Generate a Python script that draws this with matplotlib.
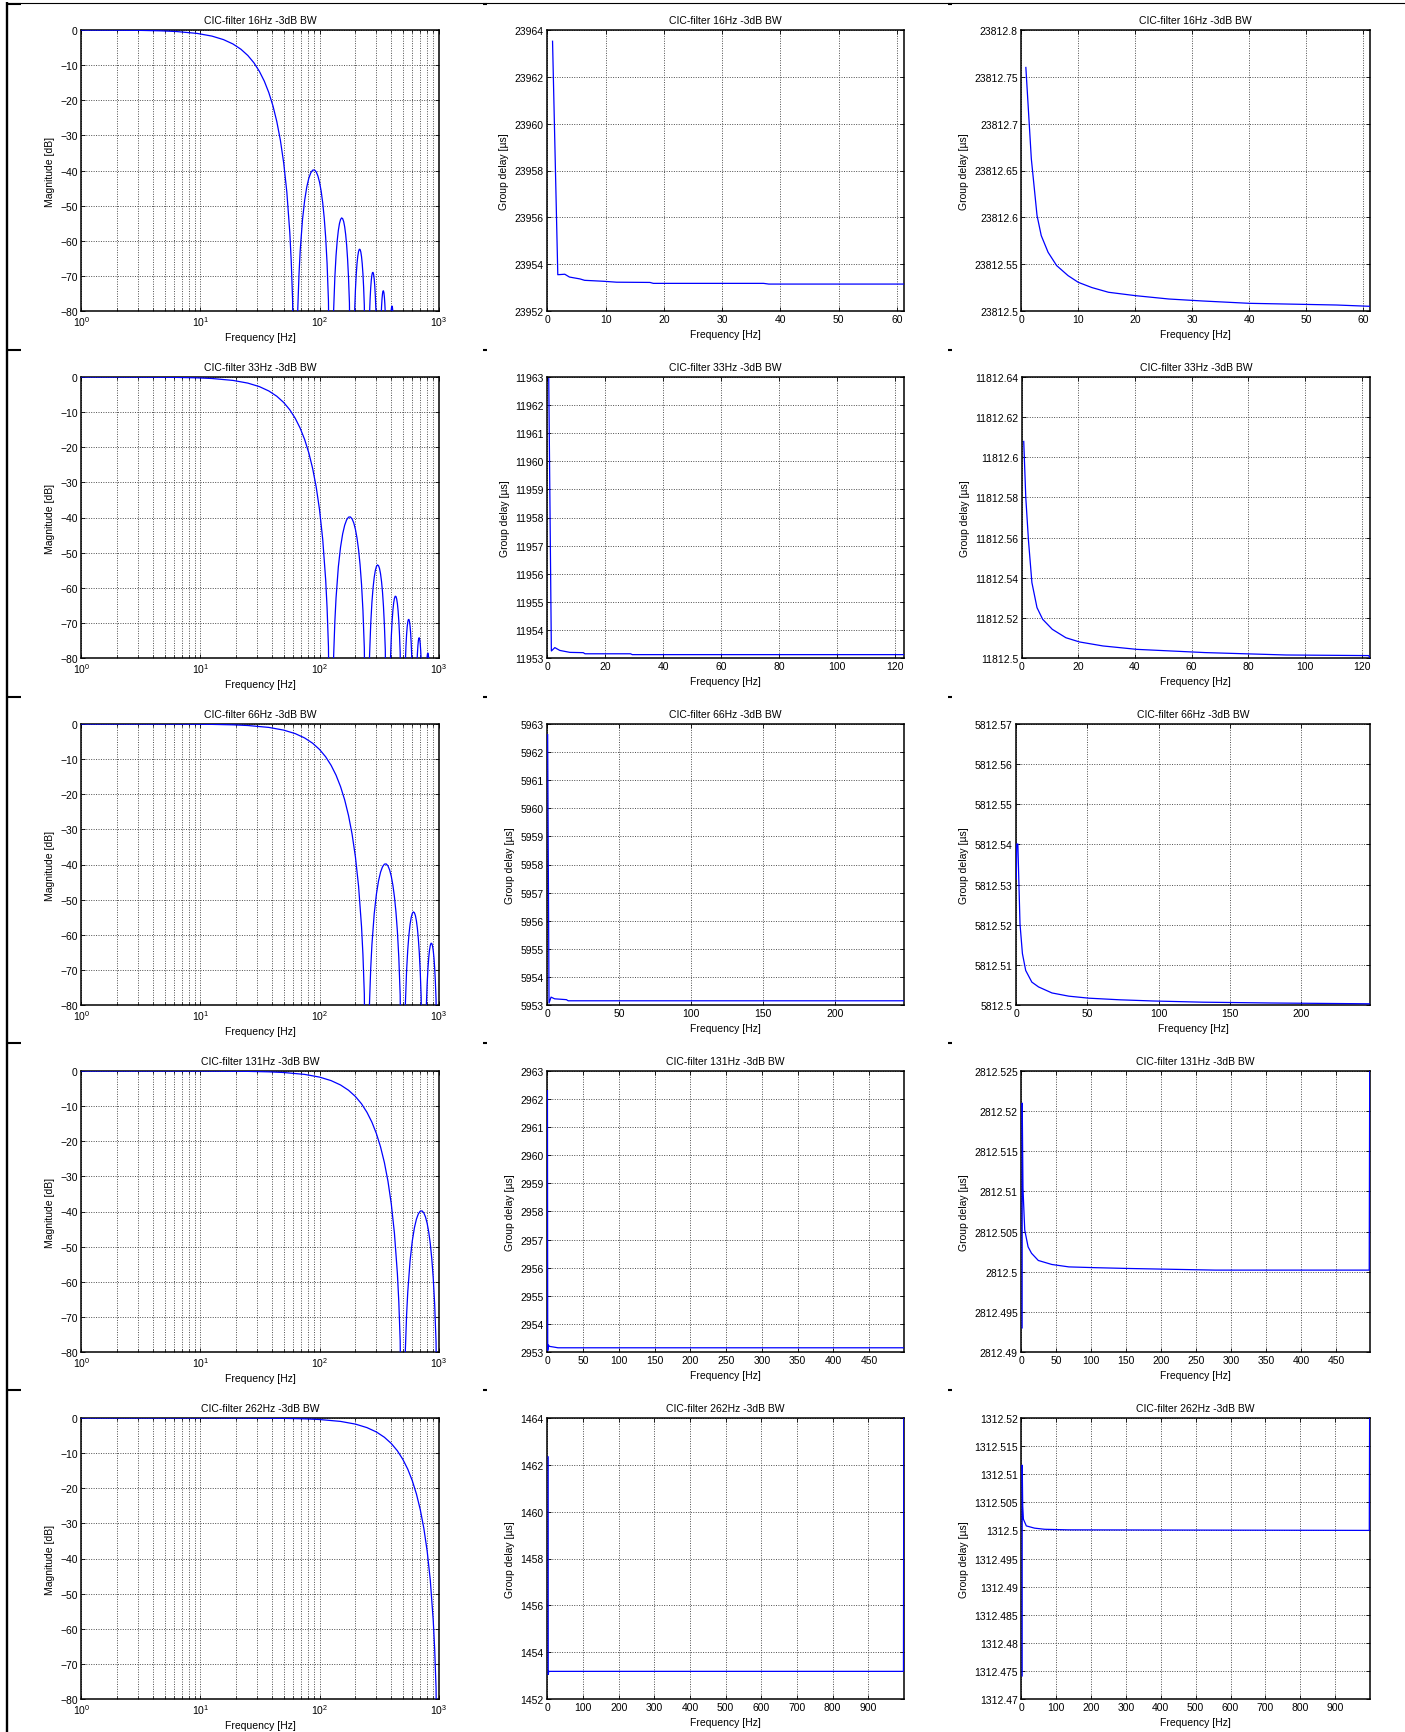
import numpy as np
import matplotlib
matplotlib.use('Agg')
import matplotlib.pyplot as plt
from matplotlib.lines import Line2D
from matplotlib.ticker import FixedLocator, FuncFormatter, NullFormatter, LogLocator

plt.rcParams['font.family'] = ['Liberation Sans', 'DejaVu Sans']
plt.rcParams['mathtext.fontset'] = 'custom'
plt.rcParams['mathtext.rm'] = 'Liberation Sans'
plt.rcParams['mathtext.it'] = 'Liberation Sans:italic'

W, H = 1405, 1733                                   # output size in pixels

# ---- data ----
BW_LABELS = ['16Hz', '33Hz', '66Hz', '131Hz', '262Hz']
NULL_FREQ = [62.5, 125, 250, 500, 1000]             # first null of each filter [Hz]

# magnitude shape, frequency relative to first null, level in dB (-150 = null, below view)
MAG_RATIO = [0.001, 0.003, 0.01, 0.02, 0.03, 0.05, 0.075, 0.1, 0.15, 0.2, 0.25, 0.3, 0.35, 0.4,
             0.45, 0.5, 0.55, 0.6, 0.65, 0.7, 0.75, 0.8, 0.85, 0.9, 0.925, 0.95, 1.0,
             1.05, 1.075, 1.1, 1.15, 1.2, 1.25, 1.3, 1.35, 1.4, 1.45, 1.5, 1.55, 1.6, 1.65, 1.7,
             1.75, 1.8, 1.85, 1.9, 2.0,
             2.1, 2.15, 2.2, 2.25, 2.3, 2.35, 2.4, 2.45, 2.5, 2.55, 2.6, 2.65, 2.7, 2.75, 2.8,
             2.85, 3.0,
             3.15, 3.2, 3.25, 3.3, 3.35, 3.4, 3.45, 3.5, 3.55, 3.6, 3.65, 3.7, 3.75, 3.8, 4.0,
             4.2, 4.25, 4.3, 4.35, 4.4, 4.45, 4.5, 4.55, 4.6, 4.65, 4.7, 4.75, 5.0,
             5.25, 5.3, 5.35, 5.4, 5.45, 5.5, 5.55, 5.6, 5.65, 5.7, 6.0,
             6.35, 6.4, 6.45, 6.5, 6.55, 6.6, 7.0, 8.0]
MAG_DB = [0.0, 0.0, -0.004, -0.017, -0.039, -0.107, -0.24, -0.43, -0.97, -1.74, -2.74, -3.98, -5.48, -7.26,
          -9.34, -11.77, -14.57, -17.83, -21.61, -26.06, -31.36, -37.86, -46.17, -57.68, -65.7, -76.83, -150,
          -79.4, -69.6, -62.9, -54.05, -48.43, -44.67, -42.19, -40.66, -39.90, -39.83, -40.39, -41.57, -43.38, -45.88, -49.18,
          -53.44, -58.99, -66.44, -77.16, -150,
          -79.76, -70.35, -64.22, -59.99, -57.06, -55.10, -53.95, -53.50, -53.71, -54.54, -56.04, -58.23, -61.23, -65.22, -70.51,
          -77.70, -150,
          -80.3, -73.98, -69.57, -66.46, -64.34, -63.03, -62.42, -62.47, -63.17, -64.52, -66.57, -69.44, -73.30, -78.46, -150,
          -81.07, -76.56, -73.36, -71.15, -69.75, -69.05, -69.02, -69.63, -70.90, -72.88, -75.68, -79.46, -150,
          -82.07, -78.8, -76.54, -75.08, -74.33, -74.25, -74.81, -76.03, -77.96, -80.7, -150,
          -81.0, -79.51, -78.73, -78.60, -79.13, -80.3, -150, -150]

# group delay, middle column [Hz], [us]
GD_MID_F = [
    [0.9, 1.8, 3, 3.8, 5.6, 6.4, 9.6, 11.9, 17.6, 18.2, 37.1, 38, 61.2],
    [0.5, 1.4, 2.6, 4.3, 7.8, 12.4, 13, 28.7, 29.3, 123],
    [0.25, 1.2, 2.6, 5.1, 13.3, 14.5, 248],
    [0.2, 0.6, 1.5, 3, 8, 15, 498],
    [2.5, 2.6, 4, 998.5, 999.5],
]
GD_MID_V = [
    [23963.52, 23953.55, 23953.57, 23953.45, 23953.37, 23953.31, 23953.27, 23953.23, 23953.22, 23953.18,
     23953.18, 23953.15, 23953.15],
    [11962.94, 11953.25, 11953.37, 11953.27, 11953.20, 11953.19, 11953.15, 11953.15, 11953.12, 11953.12],
    [5962.62, 5953.07, 5953.28, 5953.22, 5953.19, 5953.15, 5953.15],
    [2962.3, 2953.05, 2953.25, 2953.2, 2953.18, 2953.15, 2953.15],
    [1462.34, 1453.05, 1453.18, 1453.18, 1465],
]

# group delay, right column [Hz], [us]
GD_RIGHT_F = [
    [0.8, 1.76, 2.76, 3.5, 4.7, 6.2, 8.2, 10, 12.4, 15.3, 20, 25.9, 31.8, 40, 49.4, 55.3, 61.2],
    [0.72, 1.44, 2.4, 3.6, 5.4, 7.4, 10.8, 15.6, 20.4, 28.7, 40.7, 52.7, 64.7, 76.6, 93.4, 122.5, 123],
    [0.2, 0.5, 1.3, 2.8, 4.5, 6.8, 11.1, 15.8, 25.2, 37, 51, 72.4, 96, 131, 178.5, 248],
    [1.2, 1.3, 2.4, 4.9, 9.7, 14.6, 24.3, 43.7, 68, 107, 155, 277, 497.5, 498.3],
    [2.5, 2.6, 4, 6, 14.4, 38, 67, 134, 998, 999.3],
]
GD_RIGHT_V = [
    [23812.760, 23812.6625, 23812.602, 23812.5805, 23812.5627, 23812.5485, 23812.5378, 23812.5306,
     23812.525, 23812.520, 23812.5164, 23812.5128, 23812.5107, 23812.5082, 23812.5071, 23812.5064, 23812.505],
    [11812.6079, 11812.580, 11812.5584, 11812.5376, 11812.5251, 11812.5193, 11812.5143, 11812.5101,
     11812.508, 11812.506, 11812.5043, 11812.5035, 11812.5027, 11812.5022, 11812.5015, 11812.5012, 11812.5002],
    [5812.5314, 5812.5401, 5812.5401, 5812.5202, 5812.5128, 5812.5086, 5812.5057, 5812.5045, 5812.503,
     5812.5022, 5812.5017, 5812.5013, 5812.501, 5812.5007, 5812.5005, 5812.5003],
    [2812.4930, 2812.5210, 2812.5104, 2812.5052, 2812.5031, 2812.5023, 2812.5014, 2812.5009, 2812.5006,
     2812.5005, 2812.5004, 2812.5002, 2812.5002, 2812.53],
    [1312.4741, 1312.5116, 1312.5044, 1312.502, 1312.5008, 1312.5004, 1312.5002, 1312.5001, 1312.5, 1312.53],
]

# axis ranges
X_MAX = [61.2, 123, 248, 498.6, 1000]
X_STEP = [10, 20, 50, 50, 100]
MID_Y = [(23952, 23964, 2), (11953, 11963, 1), (5953, 5963, 1), (2953, 2963, 1), (1452, 1464, 2)]
RIGHT_Y = [(23812.5, 23812.8, 0.05), (11812.5, 11812.64, 0.02), (5812.5, 5812.57, 0.01),
           (2812.49, 2812.525, 0.005), (1312.47, 1312.52, 0.005)]

# ---- layout (pixels) ----
ROW_TOP = [31, 378, 725, 1072, 1419]
AX_H = 281
COL_LEFT = [81.3, 547.3]
COL_W = [357.4, 356.7]
COL3_LEFT = [1021.3, 1021.7, 1016.0, 1021.3, 1021.3]
COL3_RIGHT = 1370.0
FS = 7.5
BLUE = '#0000ff'


def px_axes(fig, left, top, width, height):
    return fig.add_axes([left / W, 1 - (top + height) / H, width / W, height / H])


def style(ax):
    for s in ax.spines.values():
        s.set_linewidth(1.1)
    ax.tick_params(which='both', direction='in', top=True, right=True, labelsize=FS, pad=2.5)
    ax.tick_params(which='major', length=3, width=0.6)
    ax.tick_params(which='minor', length=2, width=0.5)
    ax.grid(True, which='both', color='0.3', linestyle=(0, (1, 1.5)), linewidth=0.7)
    ax.set_axisbelow(True)


def num_fmt(v, pos):
    s = '%.4f' % v
    return s.rstrip('0').rstrip('.')


def set_y(ax, lo, hi, step):
    n = int(round((hi - lo) / step)) + 1
    ax.set_ylim(lo, hi)
    ax.yaxis.set_major_locator(FixedLocator(np.linspace(lo, hi, n)))
    ax.yaxis.set_major_formatter(FuncFormatter(num_fmt))


def set_x(ax, i):
    ax.set_xlim(0, X_MAX[i])
    ax.xaxis.set_major_locator(FixedLocator(np.arange(0, X_MAX[i], X_STEP[i])))
    ax.xaxis.set_major_formatter(FuncFormatter(num_fmt))


fig = plt.figure(figsize=(W / 100, H / 100), dpi=100)

for i in range(5):
    title = 'CIC-filter %s -3dB BW' % BW_LABELS[i]
    top = ROW_TOP[i]

    # magnitude
    ax = px_axes(fig, COL_LEFT[0], top, COL_W[0], AX_H)
    ax.semilogx(np.array(MAG_RATIO) * NULL_FREQ[i], MAG_DB, color=BLUE, lw=0.9, zorder=3)
    ax.set_xlim(1, 1000)
    ax.set_ylim(-80, 0)
    ax.xaxis.set_major_locator(FixedLocator([1, 10, 100, 1000]))
    ax.xaxis.set_major_formatter(FuncFormatter(lambda v, p: r'$10^{%d}$' % round(np.log10(v))))
    ax.xaxis.set_minor_locator(LogLocator(base=10, subs=np.arange(2, 10), numticks=20))
    ax.xaxis.set_minor_formatter(NullFormatter())
    ax.yaxis.set_major_locator(FixedLocator(np.arange(-80, 1, 10)))
    style(ax)
    ax.set_title(title, fontsize=FS, pad=5)
    ax.set_xlabel('Frequency [Hz]', fontsize=FS, labelpad=3)
    ax.set_ylabel('Magnitude [dB]', fontsize=FS, labelpad=4)

    # group delay, middle
    ax = px_axes(fig, COL_LEFT[1], top, COL_W[1], AX_H)
    ax.plot(GD_MID_F[i], GD_MID_V[i], color=BLUE, lw=0.9, zorder=3)
    set_x(ax, i)
    set_y(ax, *MID_Y[i])
    style(ax)
    ax.set_title(title, fontsize=FS, pad=5)
    ax.set_xlabel('Frequency [Hz]', fontsize=FS, labelpad=3)
    ax.set_ylabel('Group delay [µs]', fontsize=FS, labelpad=4)

    # group delay, right
    ax = px_axes(fig, COL3_LEFT[i], top, COL3_RIGHT - COL3_LEFT[i], AX_H)
    ax.plot(GD_RIGHT_F[i], GD_RIGHT_V[i], color=BLUE, lw=0.9, zorder=3)
    set_x(ax, i)
    set_y(ax, *RIGHT_Y[i])
    style(ax)
    ax.set_title(title, fontsize=FS, pad=5)
    ax.set_xlabel('Frequency [Hz]', fontsize=FS, labelpad=3)
    ax.set_ylabel('Group delay [µs]', fontsize=FS, labelpad=4)

# page frame of the surrounding table
def fig_line(x0, x1, y0, y1, lw):
    fig.add_artist(Line2D([x0 / W, x1 / W], [1 - y0 / H, 1 - y1 / H],
                          transform=fig.transFigure, color='k', lw=lw, solid_capstyle='butt'))

fig_line(7, 7, 3, H, 1.7)
fig_line(7, W, 3.5, 3.5, 0.8)
for y in [4.5, 351, 698, 1044, 1391]:
    fig_line(6, 21, y, y, 1.5)
    fig_line(482.5, 487, y, y, 1.5)
    fig_line(947.5, 952, y, y, 1.5)

fig.savefig('out.png', dpi=100)
